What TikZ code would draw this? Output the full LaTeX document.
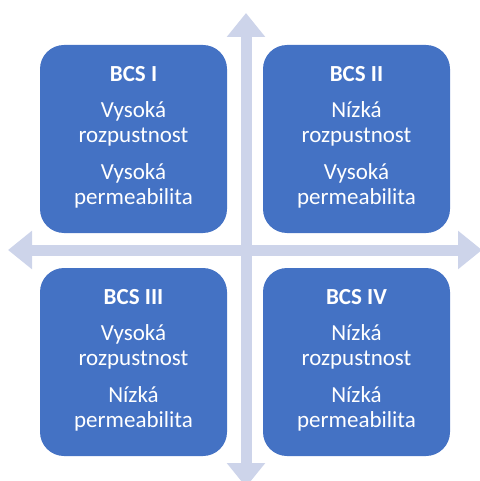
\documentclass[tikz,border=0pt]{standalone}
\usepackage{fontspec}
\setmainfont{Carlito}
\usetikzlibrary{arrows.meta,calc}
\definecolor{boxblue}{HTML}{4472C4}
\definecolor{arrowc}{HTML}{CDD4EA}
\newcommand\bcsquad[7]{%
  \node[quad] (#1) at (#2,#3) {};
  \node[title] (#1t) at ($(#1.north)+(0,37)$) {#4};
  \node[txt] (#1a) at ($(#1.north)+(0,73)$) {#5};
  \node[txt] (#1b) at ($(#1.north)+(0,98)$) {rozpustnost};
  \node[txt] (#1c) at ($(#1.north)+(0,135)$) {#6};
  \node[txt] (#1d) at ($(#1.north)+(0,160)$) {#7};
}
\begin{document}
\begin{tikzpicture}[x=1pt,y=-1pt,
  quad/.style={fill=boxblue, draw=none, rounded corners=24pt, minimum width=187pt, minimum height=188pt, inner sep=0pt},
  title/.style={anchor=base, inner sep=0pt, text=white, font=\fontsize{23}{26}\selectfont\bfseries},
  txt/.style={anchor=base, inner sep=0pt, text=white, font=\fontsize{23}{26}\selectfont},
  axis/.style={draw=arrowc, line width=11pt, {Triangle[width=37pt,length=24pt]}-{Triangle[width=37pt,length=24pt]}}]
\useasboundingbox (0,0) rectangle (479,481);
\coordinate (top) at (246,13);
\coordinate (bottom) at (246,487);
\coordinate (left) at (8,250);
\coordinate (right) at (482,250);
\draw[axis] (top) -- (bottom);
\draw[axis] (left) -- (right);
\bcsquad{q1}{133.5}{139}{BCS I}{Vysoká}{Vysoká}{permeabilita}
\bcsquad{q2}{356.5}{139}{BCS II}{Nízká}{Vysoká}{permeabilita}
\bcsquad{q3}{133.5}{362}{BCS III}{Vysoká}{Nízká}{permeabilita}
\bcsquad{q4}{356.5}{362}{BCS IV}{Nízká}{Nízká}{permeabilita}
\end{tikzpicture}
\end{document}
